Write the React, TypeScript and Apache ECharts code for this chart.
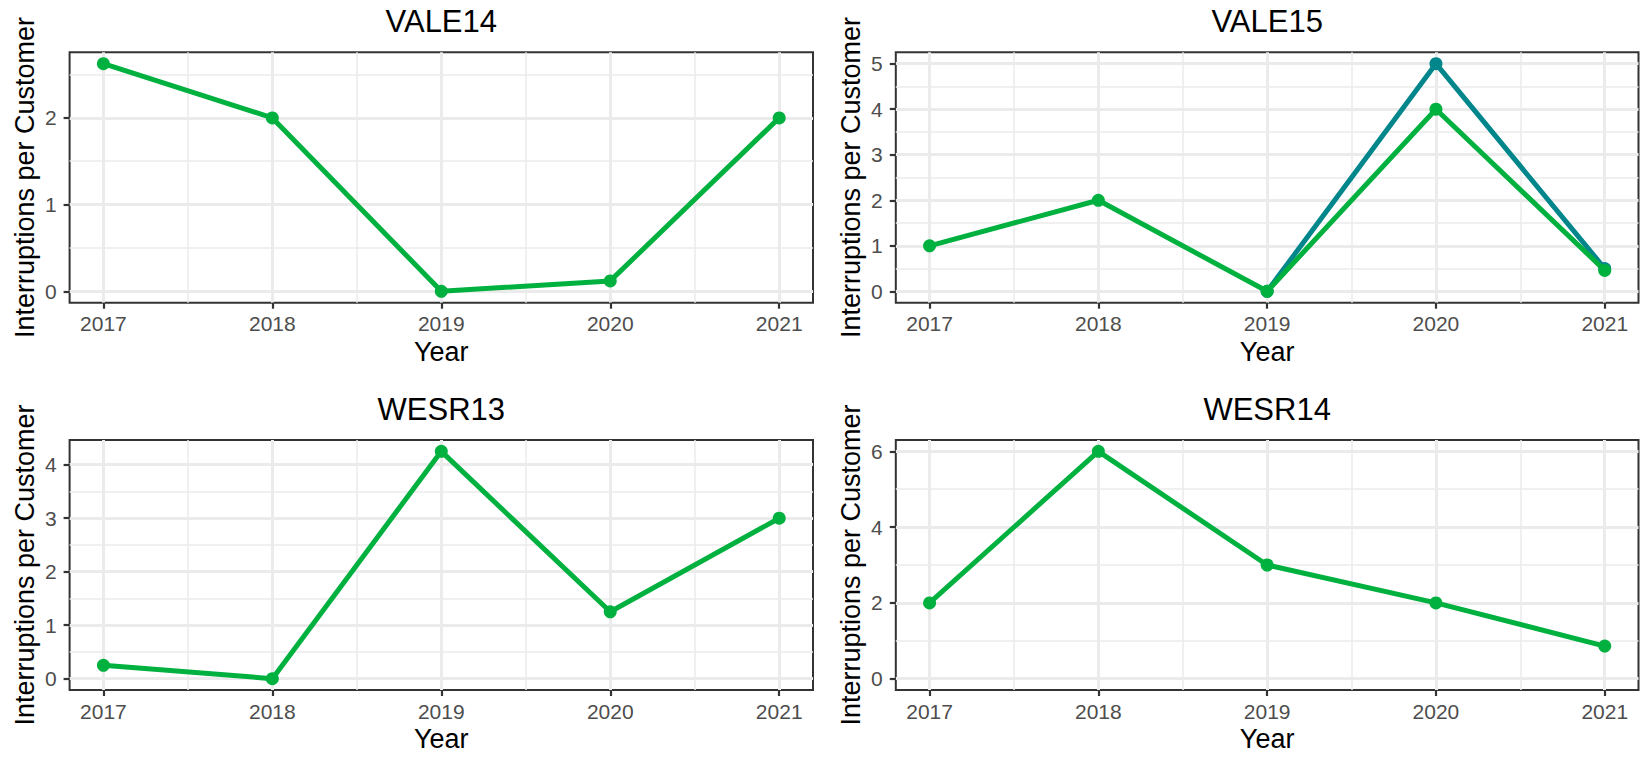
import React, { useEffect, useRef } from 'react';
import * as echarts from 'echarts';

const years = [2017, 2018, 2019, 2020, 2021];
const panelTitles = ['VALE14', 'VALE15', 'WESR13', 'WESR14'];
const vale14 = [2.625, 2, 0, 0.12, 2];
const vale15Green = [1, 2, 0, 4, 0.46];
const vale15Teal: (number | null)[] = [null, null, 0, 5, 0.5];
const wesr13 = [0.25, 0, 4.25, 1.25, 3];
const wesr14 = [2, 6, 3, 2, 0.86];
const yTicks = [[0, 1, 2], [0, 1, 2, 3, 4, 5], [0, 1, 2, 3, 4], [0, 2, 4, 6]];
const yMinorTicks = [[0.5, 1.5, 2.5], [0.5, 1.5, 2.5, 3.5, 4.5], [0.5, 1.5, 2.5, 3.5], [1, 3, 5]];
const xMinorTicks = [2017.5, 2018.5, 2019.5, 2020.5];
const xTitle = 'Year';
const yTitle = 'Interruptions per Customer';

const GREEN = '#00B140';
const TEAL = '#00868B';
const FONT = '"Liberation Sans", Arial, sans-serif';

const panelSeries: { values: (number | null)[]; color: string }[][] = [
  [{ values: vale14, color: GREEN }],
  [{ values: vale15Teal, color: TEAL }, { values: vale15Green, color: GREEN }],
  [{ values: wesr13, color: GREEN }],
  [{ values: wesr14, color: GREEN }],
];

const panels = [
  { left: 69.6, top: 52.3, width: 743.4, height: 250.4 },
  { left: 895.8, top: 52.3, width: 742.7, height: 250.4 },
  { left: 69.6, top: 440, width: 743.4, height: 250 },
  { left: 895.8, top: 440, width: 742.7, height: 250 },
];

function buildOption() {
  const xr = years[years.length - 1] - years[0];
  const xMin = years[0] - 0.05 * xr;
  const xMax = years[years.length - 1] + 0.05 * xr;

  const grid: any[] = [];
  const xAxis: any[] = [];
  const yAxis: any[] = [];
  const series: any[] = [];
  const title: any[] = [];

  panels.forEach((p, i) => {
    grid.push({
      left: p.left, top: p.top, width: p.width, height: p.height,
      show: true, borderColor: '#333333', borderWidth: 2, backgroundColor: 'transparent',
    });
    const all: number[] = [0];
    panelSeries[i].forEach((s) => s.values.forEach((v) => { if (v !== null) all.push(v); }));
    const dMin = Math.min(...all);
    const dMax = Math.max(...all);
    const yr = dMax - dMin;
    const yMin = dMin - 0.05 * yr;
    const yMax = dMax + 0.05 * yr;

    xAxis.push({
      type: 'value', gridIndex: i, min: xMin, max: xMax, position: 'bottom',
      axisLine: { show: false, onZero: false },
      axisTick: { show: true, customValues: years, length: 6, lineStyle: { color: '#333333', width: 2.2 } },
      axisLabel: { customValues: years, fontSize: 21, color: '#4D4D4D', margin: 10.5, fontFamily: FONT, formatter: (v: number) => String(v) },
      splitLine: { show: true, lineStyle: { color: '#EBEBEB', width: 3 } },
      name: xTitle, nameLocation: 'middle', nameGap: 35.5,
      nameTextStyle: { fontSize: 27, color: '#000000', fontFamily: FONT },
    });
    xAxis.push({
      type: 'value', gridIndex: i, min: xMin, max: xMax, position: 'top',
      axisLine: { show: false, onZero: false },
      axisTick: { show: false, customValues: xMinorTicks },
      axisLabel: { show: false, customValues: xMinorTicks },
      splitLine: { show: true, lineStyle: { color: '#EBEBEB', width: 1.5 } },
    });
    yAxis.push({
      type: 'value', gridIndex: i, min: yMin, max: yMax, position: 'left',
      axisLine: { show: false, onZero: false },
      axisTick: { show: true, customValues: yTicks[i], length: 6, lineStyle: { color: '#333333', width: 2.2 } },
      axisLabel: { customValues: yTicks[i], fontSize: 21, color: '#4D4D4D', margin: 13, fontFamily: FONT, formatter: (v: number) => String(v) },
      splitLine: { show: true, lineStyle: { color: '#EBEBEB', width: 3 } },
      name: yTitle, nameLocation: 'middle', nameGap: 31,
      nameTextStyle: { fontSize: 27, color: '#000000', fontFamily: FONT },
    });
    yAxis.push({
      type: 'value', gridIndex: i, min: yMin, max: yMax, position: 'right',
      axisLine: { show: false, onZero: false },
      axisTick: { show: false, customValues: yMinorTicks[i] },
      axisLabel: { show: false, customValues: yMinorTicks[i] },
      splitLine: { show: true, lineStyle: { color: '#EBEBEB', width: 1.5 } },
    });

    panelSeries[i].forEach((s, k) => {
      const data: [number, number][] = [];
      years.forEach((yv, j) => { const v = s.values[j]; if (v !== null) data.push([yv, v]); });
      series.push({
        type: 'line', xAxisIndex: 2 * i, yAxisIndex: 2 * i, data,
        symbol: 'circle', symbolSize: 13, showSymbol: true,
        lineStyle: { width: 5, color: s.color }, itemStyle: { color: s.color },
        z: 2 + k, silent: true,
      });
    });

    const titleCenterY = i < 2 ? 21.5 : 409.2;
    title.push({
      text: panelTitles[i], left: p.left + p.width / 2, top: titleCenterY - 15.5, textAlign: 'center', padding: 0,
      textStyle: { fontSize: 31, fontWeight: 'normal', color: '#000000', fontFamily: FONT, lineHeight: 31 },
    });
  });

  return { animation: false, backgroundColor: '#FFFFFF', title, grid, xAxis, yAxis, series };
}

export default function App() {
  const ref = useRef<HTMLDivElement>(null);
  useEffect(() => {
    if (!ref.current) return;
    const chart = echarts.init(ref.current, undefined, { renderer: 'svg' });
    chart.setOption(buildOption() as any);
    return () => chart.dispose();
  }, []);
  return <div ref={ref} style={{ position: 'absolute', left: 0, top: 0, width: 1640, height: 757 }} />;
}
